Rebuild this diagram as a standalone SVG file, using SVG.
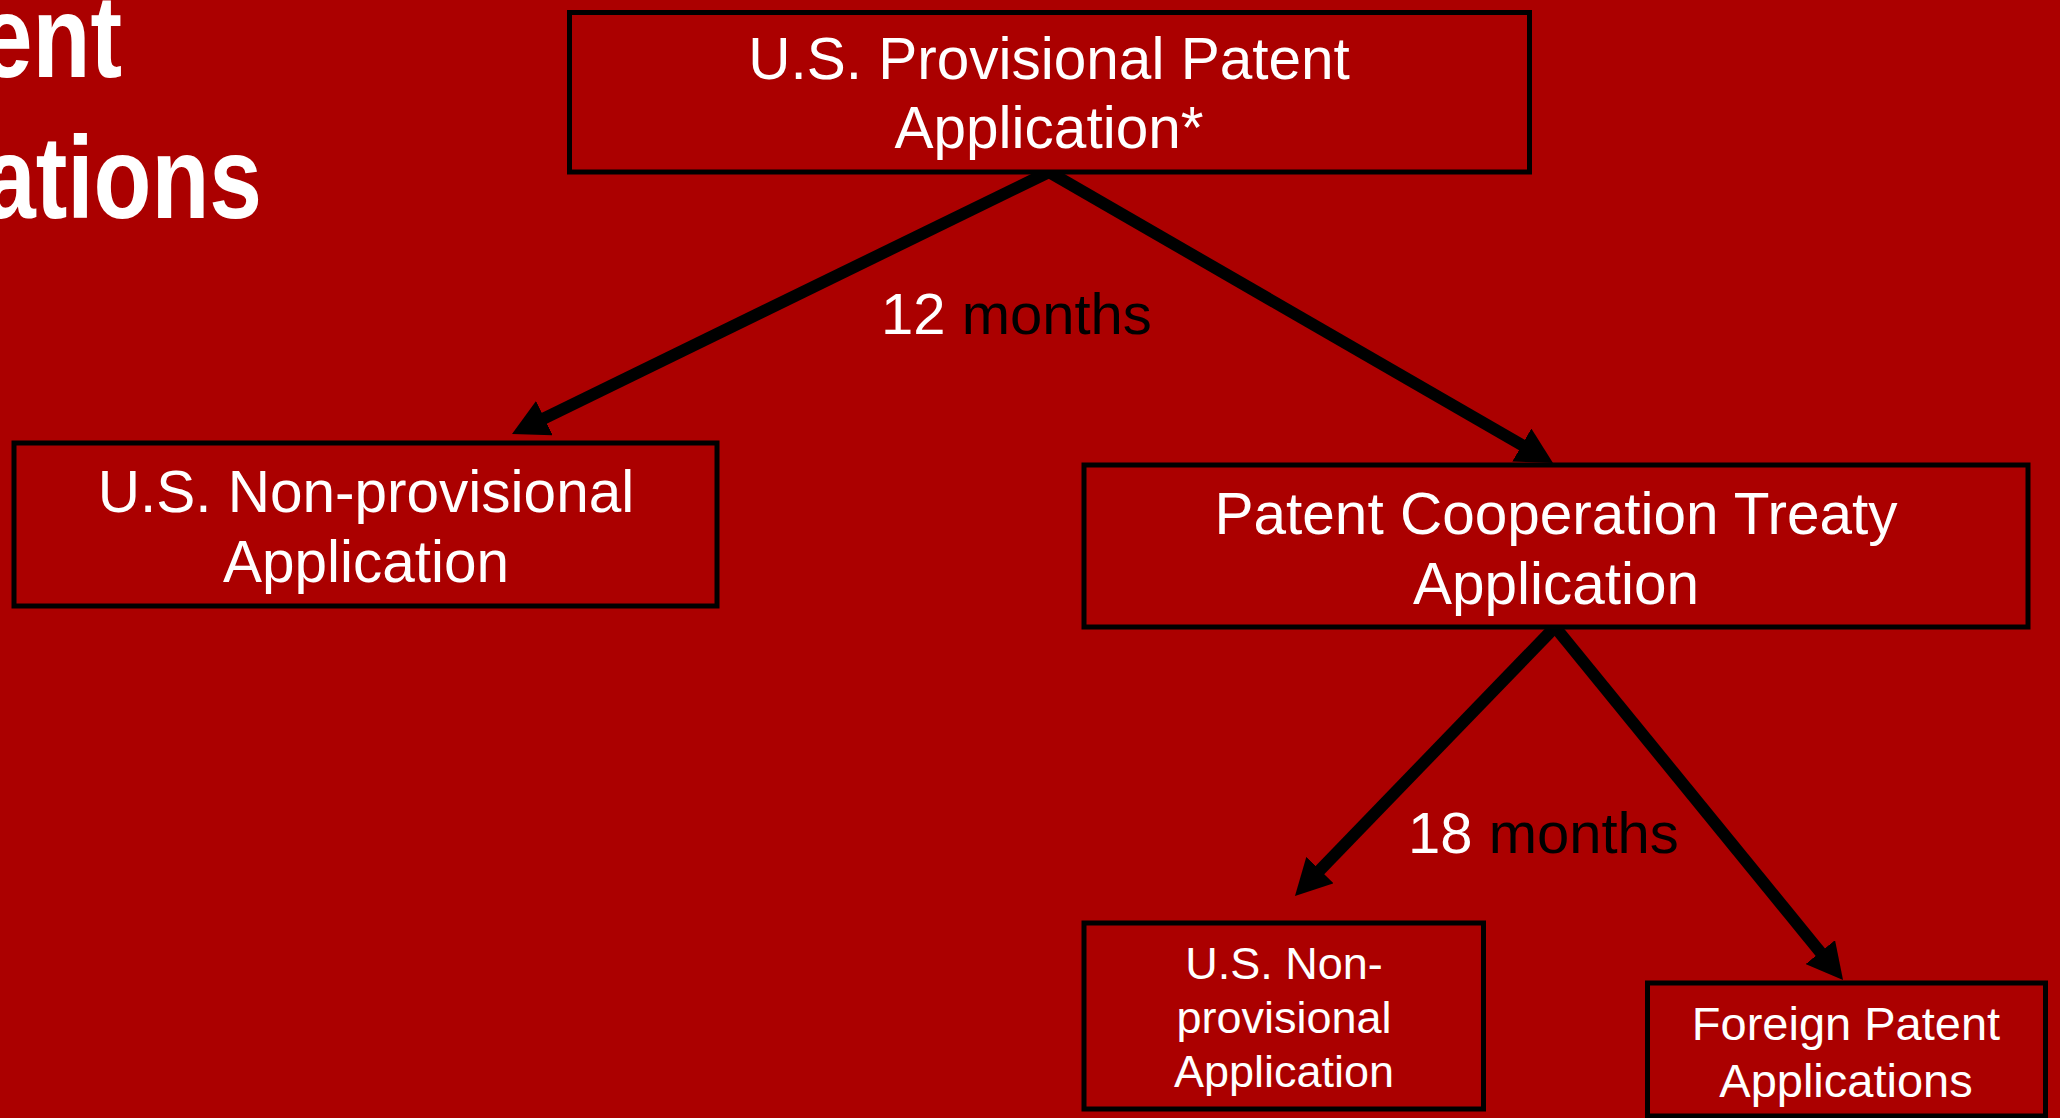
<svg xmlns="http://www.w3.org/2000/svg" width="2060" height="1118" viewBox="0 0 2060 1118">
  <style>
    .box { fill: #AB0000; stroke: #000; stroke-width: 5; }
    .lbl { font-family: "Liberation Sans", Arial, sans-serif; fill: #fff; text-anchor: middle; }
    .big { font-size: 58.5px; }
    .title { font-family: "Liberation Sans", Arial, sans-serif; font-weight: bold; font-size: 117px; fill: #fff; text-anchor: end; }
    .conn { stroke: #000; stroke-width: 12; fill: none; marker-end: url(#ah); }
    .dur { font-family: "Liberation Sans", Arial, sans-serif; font-size: 58px; }
  </style>
  <defs>
    <marker id="ah" markerUnits="userSpaceOnUse" markerWidth="36" markerHeight="38" viewBox="0 0 36 38" refX="22" refY="19" orient="auto">
      <path d="M0,0 L36,19 L0,38 z" fill="#000"/>
    </marker>
  </defs>
  <rect x="0" y="0" width="2060" height="1118" fill="#AB0000"/>

  <g id="title">
    <text class="title" transform="scale(0.81 1)" x="150.6" y="77">ent</text>
    <text class="title" transform="scale(0.81 1)" x="323.5" y="218">ations</text>
  </g>

  <g id="connectors">
    <path class="conn" d="M1049,172 L524.6,427.8"/>
    <path class="conn" d="M1049,172 L1540.9,456"/>
    <path class="conn" d="M1555,627 L1304.7,885.9"/>
    <path class="conn" d="M1555,627 L1834.2,969.2"/>
    <text class="dur" x="881" y="334"><tspan fill="#fff">12</tspan><tspan fill="#000"> months</tspan></text>
    <text class="dur" x="1408" y="853"><tspan fill="#fff">18</tspan><tspan fill="#000"> months</tspan></text>
  </g>

  <g id="provisional">
    <rect class="box" x="569.5" y="12.5" width="960" height="159.5"/>
    <text class="lbl big" x="1049" y="79">U.S. Provisional Patent</text>
    <text class="lbl big" x="1049" y="148">Application*</text>
  </g>

  <g id="nonprovisional-us">
    <rect class="box" x="14" y="443" width="703" height="163"/>
    <text class="lbl big" x="366" y="512">U.S. Non-provisional</text>
    <text class="lbl big" x="366" y="582">Application</text>
  </g>

  <g id="pct">
    <rect class="box" x="1084" y="465" width="944" height="162"/>
    <text class="lbl big" x="1556" y="534">Patent Cooperation Treaty</text>
    <text class="lbl big" x="1556" y="604">Application</text>
  </g>

  <g id="nonprovisional-us-2">
    <rect class="box" x="1084" y="923" width="399.5" height="186"/>
    <text class="lbl" font-size="45" x="1284" y="979">U.S. Non-</text>
    <text class="lbl" font-size="45" x="1284" y="1033">provisional</text>
    <text class="lbl" font-size="45" x="1284" y="1087">Application</text>
  </g>

  <g id="foreign">
    <rect class="box" x="1647.5" y="983" width="398" height="133"/>
    <text class="lbl" font-size="47" x="1846" y="1040">Foreign Patent</text>
    <text class="lbl" font-size="47" x="1846" y="1097">Applications</text>
  </g>
</svg>
